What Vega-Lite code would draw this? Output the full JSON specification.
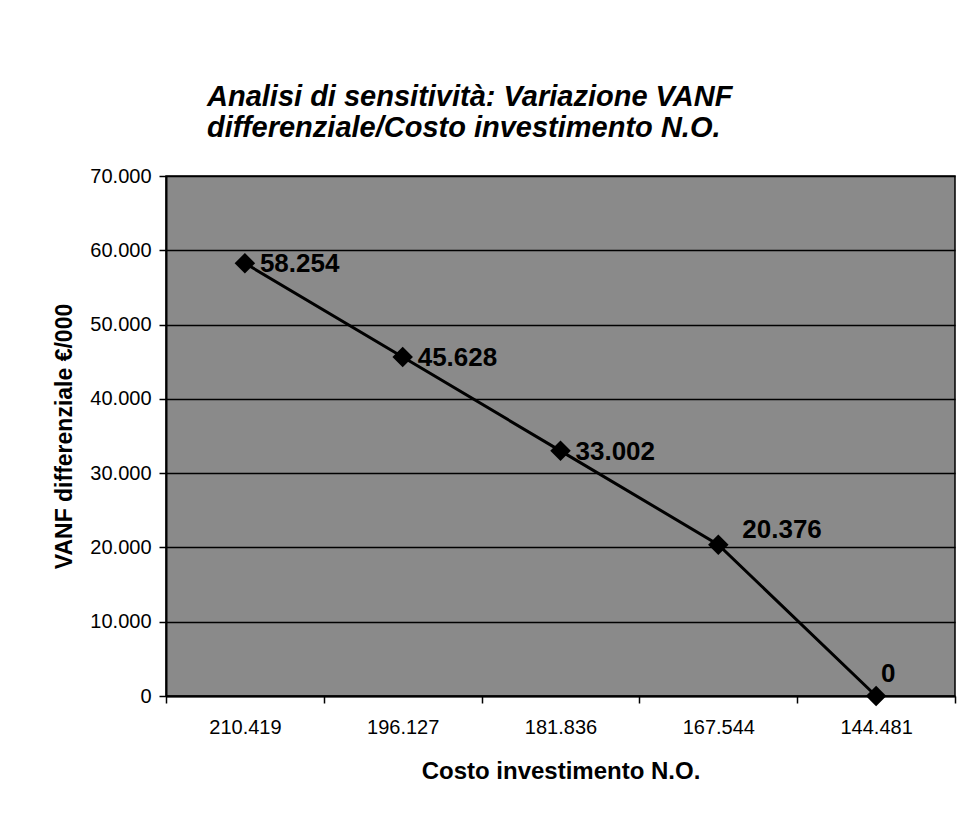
{
  "$schema": "https://vega.github.io/schema/vega-lite/v6.json",
  "width": 789,
  "height": 520,
  "autosize": {"type": "none"},
  "padding": {"left": 166, "top": 176, "right": 12, "bottom": 117},
  "background": "white",
  "title": {
    "text": ["Analisi di sensitività: Variazione VANF", "differenziale/Costo investimento N.O."],
    "font": "Liberation Sans",
    "fontSize": 29,
    "fontStyle": "italic",
    "fontWeight": "bold",
    "color": "black",
    "anchor": "start",
    "frame": "group",
    "dx": 41,
    "offset": 23,
    "lineHeight": 31
  },
  "data": {
    "values": [
      {"costo": "210.419", "vanf": 58254},
      {"costo": "196.127", "vanf": 45628},
      {"costo": "181.836", "vanf": 33002},
      {"costo": "167.544", "vanf": 20376},
      {"costo": "144.481", "vanf": 0}
    ]
  },
  "encoding": {
    "x": {
      "field": "costo",
      "type": "ordinal",
      "sort": null,
      "scale": {"paddingInner": 0, "paddingOuter": 0},
      "axis": {
        "title": "Costo investimento N.O.",
        "titleFontSize": 24,
        "labelAngle": 0,
        "tickBand": "extent",
        "tickSize": 7,
        "tickColor": "black",
        "tickWidth": 1.5,
        "domainColor": "black",
        "domainWidth": 2,
        "labelPadding": 14,
        "titlePadding": 22,
        "grid": false
      }
    },
    "y": {
      "field": "vanf",
      "type": "quantitative",
      "scale": {"domain": [0, 70000], "nice": false},
      "axis": {
        "title": "VANF differenziale €/000",
        "titleFontSize": 23,
        "values": [0, 10000, 20000, 30000, 40000, 50000, 60000, 70000],
        "format": ",d",
        "grid": true,
        "gridColor": "black",
        "gridWidth": 1.5,
        "gridOpacity": 1,
        "tickSize": 7,
        "tickColor": "black",
        "tickWidth": 1.5,
        "domainColor": "black",
        "domainWidth": 2,
        "labelPadding": 8,
        "titlePadding": 13
      }
    }
  },
  "layer": [
    {"mark": {"type": "line", "color": "black", "strokeWidth": 3}},
    {"mark": {"type": "point", "shape": "diamond", "size": 420, "filled": true, "color": "black", "opacity": 1}},
    {
      "transform": [{"filter": "datum.vanf >= 30000"}],
      "mark": {"type": "text", "align": "left", "baseline": "middle", "dx": 15, "dy": 1, "font": "Liberation Sans", "fontSize": 26, "fontWeight": "bold", "color": "black"},
      "encoding": {"text": {"field": "vanf", "type": "quantitative", "format": ",d"}}
    },
    {
      "transform": [{"filter": "datum.vanf > 0 && datum.vanf < 30000"}],
      "mark": {"type": "text", "align": "left", "baseline": "middle", "dx": 24, "dy": -15, "font": "Liberation Sans", "fontSize": 26, "fontWeight": "bold", "color": "black"},
      "encoding": {"text": {"field": "vanf", "type": "quantitative", "format": ",d"}}
    },
    {
      "transform": [{"filter": "datum.vanf == 0"}],
      "mark": {"type": "text", "align": "left", "baseline": "middle", "dx": 5, "dy": -22, "font": "Liberation Sans", "fontSize": 26, "fontWeight": "bold", "color": "black"},
      "encoding": {"text": {"field": "vanf", "type": "quantitative", "format": ",d"}}
    }
  ],
  "config": {
    "locale": {"number": {"decimal": ",", "thousands": ".", "grouping": [3], "currency": ["€", ""]}},
    "view": {"fill": "#8a8a8a", "stroke": "black", "strokeWidth": 1.5},
    "axis": {
      "labelFont": "Liberation Sans",
      "labelFontSize": 20,
      "labelColor": "black",
      "titleFont": "Liberation Sans",
      "titleFontWeight": "bold",
      "titleColor": "black"
    }
  }
}
